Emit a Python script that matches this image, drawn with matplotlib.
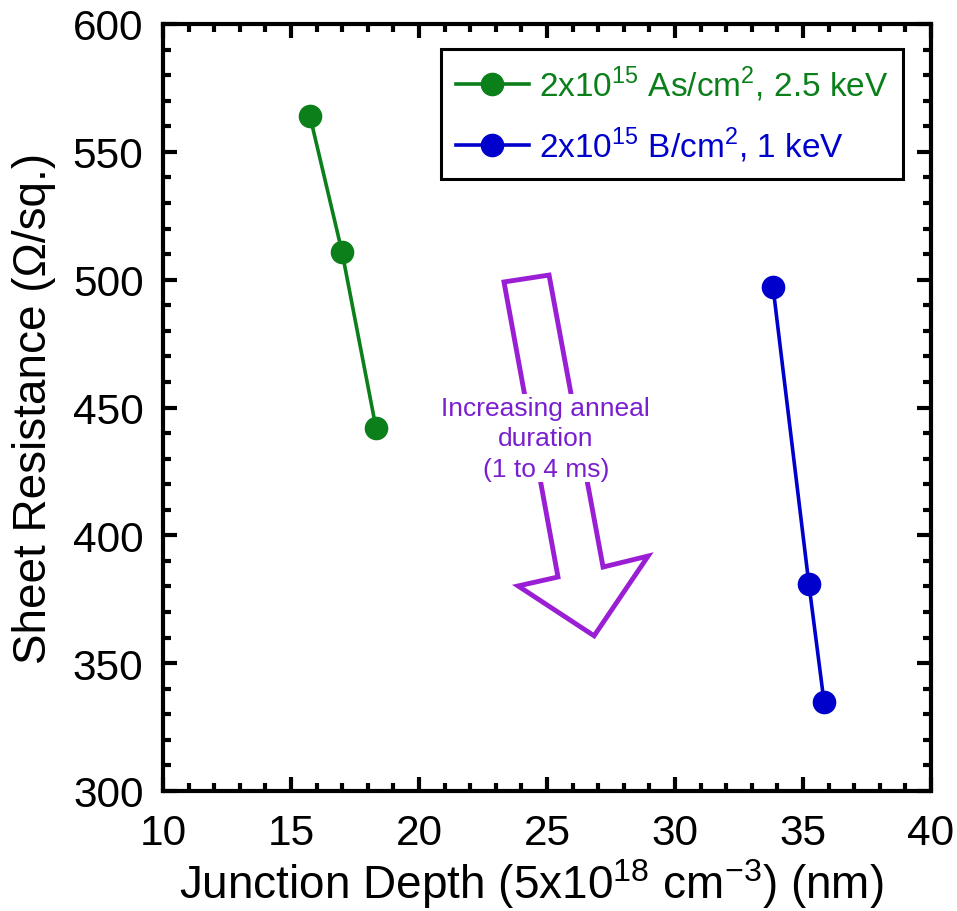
import matplotlib
matplotlib.use("Agg")
import matplotlib.pyplot as plt
from matplotlib.patches import Polygon
from matplotlib.ticker import MultipleLocator

plt.rcParams["font.family"] = ["Liberation Sans", "DejaVu Sans"]
plt.rcParams["mathtext.fontset"] = "custom"
plt.rcParams["mathtext.rm"] = "Liberation Sans"

# junction depth (nm) vs sheet resistance (ohm/sq), anneal 1 -> 4 ms
as_depth = [15.74, 16.99, 18.32]
as_rs = [564, 511, 442]
b_depth = [33.83, 35.23, 35.82]
b_rs = [497, 381, 335]

# outlined arrow marking the anneal-time trend (data coords)
arrow_x = [23.32, 25.08, 27.19, 28.95, 26.84, 23.87, 25.43]
arrow_y = [499.1, 501.8, 387.6, 391.9, 360.7, 380.2, 383.7]

green = "#0a7f1a"
blue = "#0000cc"
purple = "#9a1fd4"

fig = plt.figure(figsize=(9.57, 9.12), dpi=100)
ax = fig.add_axes([163 / 957, 1 - 792 / 912, 768 / 957, 767 / 912])

ax.plot(as_depth, as_rs, "-o", color=green, lw=2.6, ms=16,
        label=r"2x10$^{15}$ As/cm$^{2}$, 2.5 keV")
ax.plot(b_depth, b_rs, "-o", color=blue, lw=2.6, ms=16,
        label=r"2x10$^{15}$ B/cm$^{2}$, 1 keV")

ax.add_patch(Polygon(list(zip(arrow_x, arrow_y)), closed=True, fill=False,
                     edgecolor=purple, lw=3.5, joinstyle="miter"))
ax.text(24.95, 438, "Increasing anneal\nduration\n(1 to 4 ms)", color="#7a1fd0",
        fontsize=19, ha="center", va="center", linespacing=1.35,
        bbox=dict(facecolor="white", edgecolor="none", pad=1))

ax.set_xlim(10, 40)
ax.set_ylim(300, 600)
ax.xaxis.set_major_locator(MultipleLocator(5))
ax.xaxis.set_minor_locator(MultipleLocator(1))
ax.yaxis.set_major_locator(MultipleLocator(50))
ax.yaxis.set_minor_locator(MultipleLocator(10))
ax.tick_params(which="both", direction="in", top=True, right=True, width=3)
ax.tick_params(which="major", length=10, labelsize=30.5)
ax.tick_params(axis="y", which="major", pad=14)
ax.tick_params(axis="x", which="major", pad=16)
ax.tick_params(which="minor", length=6)
for s in ax.spines.values():
    s.set_linewidth(3)

ax.set_xlabel(r"Junction Depth (5x10$^{18}$ cm$^{-3}$) (nm)", fontsize=33)
ax.xaxis.set_label_coords(0.479, -0.139)
ax.xaxis.label.set_va("baseline")
ax.set_ylabel("Sheet Resistance (Ω/sq.)", fontsize=33, labelpad=12)

leg = ax.legend(loc="upper right", bbox_to_anchor=(0.964, 0.968), fontsize=24,
                fancybox=False, framealpha=1, edgecolor="black", handlelength=2.2,
                borderpad=0.45, labelspacing=0.65, handletextpad=0.3,
                borderaxespad=0)
leg.get_frame().set_linewidth(2.2)
for txt, c in zip(leg.get_texts(), [green, blue]):
    txt.set_color(c)

fig.savefig("out.png", dpi=100)
